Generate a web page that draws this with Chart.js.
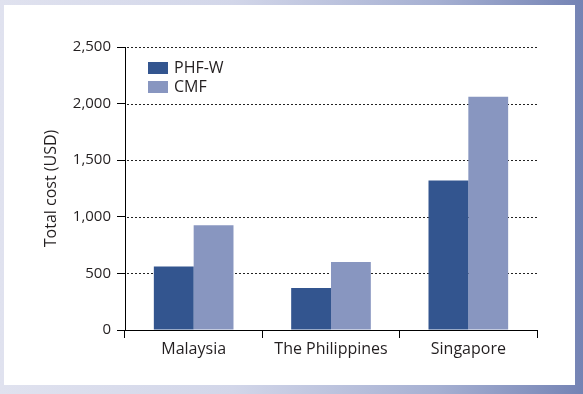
<!DOCTYPE html>
<html>
<head>
<meta charset="utf-8">
<script src="https://cdn.jsdelivr.net/npm/chart.js@4"></script>
<style>
  html, body { margin: 0; padding: 0; }
  body {
    width: 583px; height: 394px; overflow: hidden; position: relative;
    background: linear-gradient(to right, #e0e2ef 0%, #d2d6e9 40%, #a6b0d2 75%, #7483b4 100%);
  }
  #panel { position: absolute; left: 4px; top: 5px; width: 571px; height: 380px; background: #fff; }
  #barChart { position: absolute; left: 0; top: 0; }
</style>
</head>
<body>
<div id="panel"></div>
<canvas id="barChart" width="583" height="394"></canvas>
<script>
const countries = ['Malaysia', 'The Philippines', 'Singapore'];
const phfW = [560, 370, 1320];
const cmf = [925, 600, 2060];
const yMax = 2500;
const yStep = 500;

Chart.defaults.font.family = '"Open Sans", "Noto Sans", sans-serif';
Chart.defaults.color = '#231f20';

// dotted horizontal grid lines, drawn under the bars
const dottedGrid = {
  id: 'dottedGrid',
  beforeDatasetsDraw(chart) {
    const {ctx, chartArea, scales} = chart;
    ctx.save();
    ctx.strokeStyle = '#222';
    ctx.lineWidth = 1;
    ctx.setLineDash([2, 2]);
    scales.y.ticks.forEach(t => {
      if (t.value === 0) return;
      const y = Math.round(scales.y.getPixelForValue(t.value)) + 0.5;
      ctx.beginPath();
      ctx.moveTo(chartArea.left + 2, y);
      ctx.lineTo(chartArea.right, y);
      ctx.stroke();
    });
    ctx.restore();
  }
};

// legend stacked in the top-left corner of the plot
const boxLegend = {
  id: 'boxLegend',
  afterDraw(chart) {
    const {ctx, chartArea} = chart;
    ctx.save();
    ctx.font = '16px "Open Sans", sans-serif';
    ctx.textBaseline = 'middle';
    chart.data.datasets.forEach((ds, i) => {
      const x = chartArea.left + 23;
      const y = chartArea.top + 15 + i * 19;
      ctx.fillStyle = ds.backgroundColor;
      ctx.fillRect(x, y, 20, 12);
      ctx.fillStyle = '#231f20';
      ctx.fillText(ds.label, x + 26, y + 6);
    });
    ctx.restore();
  }
};

const ctx = document.getElementById('barChart');
new Chart(ctx, {
  type: 'bar',
  data: {
    labels: countries,
    datasets: [{
      label: 'PHF-W',
      data: phfW,
      backgroundColor: '#33558f',
      categoryPercentage: 0.58,
      barPercentage: 1
    }, {
      label: 'CMF',
      data: cmf,
      backgroundColor: '#8896c0',
      categoryPercentage: 0.58,
      barPercentage: 1
    }]
  },
  options: {
    responsive: false,
    animation: false,
    layout: { padding: { top: 47, right: 46, left: 0, bottom: 0 } },
    plugins: {
      legend: { display: false },
      tooltip: { enabled: false }
    },
    scales: {
      x: {
        offset: true,
        grid: { offset: true, drawOnChartArea: false, drawTicks: true, tickLength: 8, color: '#000' },
        border: { color: '#000', width: 1 },
        ticks: { padding: 2, font: { size: 16 } },
        afterFit(scale) { scale.height = 64; }
      },
      y: {
        min: 0,
        max: yMax,
        ticks: { stepSize: yStep, padding: 6, font: { size: 15 } },
        grid: { drawOnChartArea: false, drawTicks: true, tickLength: 8, color: '#000' },
        border: { color: '#000', width: 1 },
        title: {
          display: true,
          text: 'Total cost (USD)',
          font: { size: 16 },
          padding: { top: 42, bottom: 0 }
        },
        afterFit(scale) { scale.width = 125; }
      }
    }
  },
  plugins: [dottedGrid, boxLegend]
});
</script>
</body>
</html>
